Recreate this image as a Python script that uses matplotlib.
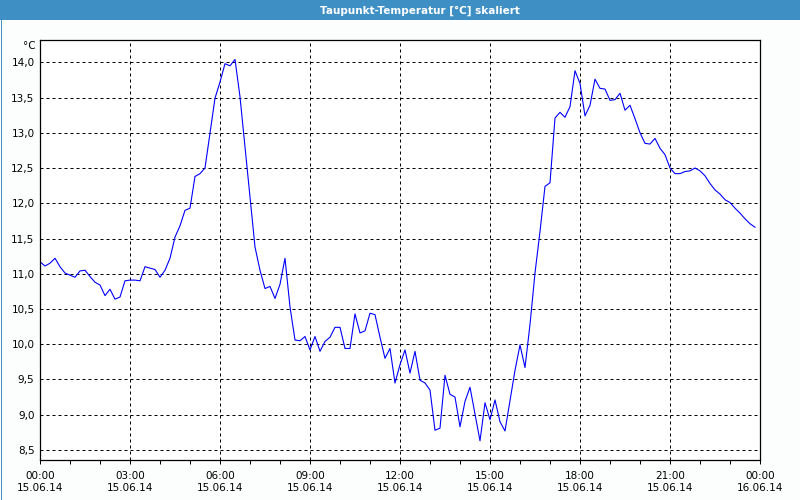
import numpy as np
import matplotlib
matplotlib.use('Agg')
import matplotlib.pyplot as plt
from matplotlib.patches import Rectangle
from matplotlib.lines import Line2D
from matplotlib.ticker import MultipleLocator, FuncFormatter

# dew point, one value every 10 minutes starting 15.06.14 00:00
dew_point = [
    11.17, 11.11, 11.15, 11.22, 11.10, 11.01, 10.98, 10.95, 11.04, 11.05,
    10.96, 10.88, 10.84, 10.69, 10.78, 10.64, 10.67, 10.90, 10.91, 10.91,
    10.90, 11.10, 11.08, 11.06, 10.95, 11.05, 11.22, 11.52, 11.68, 11.90,
    11.93, 12.38, 12.42, 12.50, 12.99, 13.49, 13.72, 13.98, 13.95, 14.04,
    13.51, 12.80, 12.09, 11.38, 11.05, 10.79, 10.82, 10.65, 10.85, 11.22,
    10.53, 10.06, 10.05, 10.11, 9.92, 10.11, 9.90, 10.04, 10.10, 10.24,
    10.24, 9.94, 9.94, 10.43, 10.16, 10.19, 10.44, 10.42, 10.10, 9.80,
    9.94, 9.45, 9.71, 9.92, 9.59, 9.90, 9.49, 9.45, 9.35, 8.78,
    8.81, 9.56, 9.29, 9.25, 8.83, 9.19, 9.39, 9.01, 8.63, 9.17,
    8.93, 9.21, 8.90, 8.77, 9.20, 9.63, 9.99, 9.67, 10.28, 11.01,
    11.60, 12.24, 12.29, 13.21, 13.29, 13.22, 13.37, 13.88, 13.70, 13.24,
    13.39, 13.76, 13.63, 13.62, 13.46, 13.47, 13.56, 13.32, 13.39, 13.20,
    13.00, 12.85, 12.84, 12.92, 12.78, 12.69, 12.50, 12.42, 12.42, 12.45,
    12.46, 12.50, 12.46, 12.39, 12.28, 12.19, 12.13, 12.05, 12.01, 11.93,
    11.86, 11.78, 11.71, 11.66,
]
hours = np.arange(len(dew_point)) * 10 / 60

tick_hours = [0, 3, 6, 9, 12, 15, 18, 21, 24]
tick_labels = ['00:00\n15.06.14', '03:00\n15.06.14', '06:00\n15.06.14',
               '09:00\n15.06.14', '12:00\n15.06.14', '15:00\n15.06.14',
               '18:00\n15.06.14', '21:00\n15.06.14', '00:00\n16.06.14']
y_ticks = np.arange(8.5, 14.01, 0.5)

title = 'Taupunkt-Temperatur [°C] skaliert'
unit = '°C'

plt.rcParams['font.family'] = 'DejaVu Sans'

W, H = 800, 500
fig = plt.figure(figsize=(8, 5), dpi=100, facecolor='#fcfefd')

# title bar
fig.patches.append(Rectangle((0, 1 - 20 / H), 1, 20 / H, transform=fig.transFigure,
                             facecolor='#3d8fc4', edgecolor='none', zorder=0))
fig.text(420 / W, 1 - 10.5 / H, title, color='white', fontsize=7.5, fontweight='bold',
         ha='center', va='center')

# window border
border = '#3d8fc4'
fig.lines.append(Line2D([0.5 / W, 0.5 / W], [0, 1], transform=fig.transFigure, color=border, lw=0.72))
fig.lines.append(Line2D([1 - 0.5 / W, 1 - 0.5 / W], [0, 1], transform=fig.transFigure, color=border, lw=0.72))
fig.lines.append(Line2D([0, 1], [0.5 / H, 0.5 / H], transform=fig.transFigure, color=border, lw=0.72))

ax = fig.add_axes([40 / W, 40 / H, 720 / W, 420 / H])
ax.set_facecolor('white')
ax.plot(hours, dew_point, color='#0000ff', lw=0.8)

ax.set_xlim(0, 24)
ax.set_ylim(8.358, 14.316)
ax.set_xticks(tick_hours)
ax.set_xticklabels(tick_labels)
ax.xaxis.set_minor_locator(MultipleLocator(1))
ax.set_yticks(y_ticks)
ax.yaxis.set_major_formatter(FuncFormatter(lambda v, p: f'{v:.1f}'.replace('.', ',')))

ax.grid(True, which='major', color='black', lw=0.72, linestyle=(0, (3, 3)))
ax.tick_params(axis='x', which='both', direction='out', length=3, width=0.72,
               pad=5, labelsize=7.5, color='black')
ax.tick_params(axis='y', length=0, pad=4, labelsize=7.5)
for s in ax.spines.values():
    s.set_linewidth(0.9)
    s.set_color('black')

fig.text(36 / W, 1 - 46 / H, unit, fontsize=7.5, ha='right', va='center')

fig.savefig('out.png', dpi=100, facecolor=fig.get_facecolor())
